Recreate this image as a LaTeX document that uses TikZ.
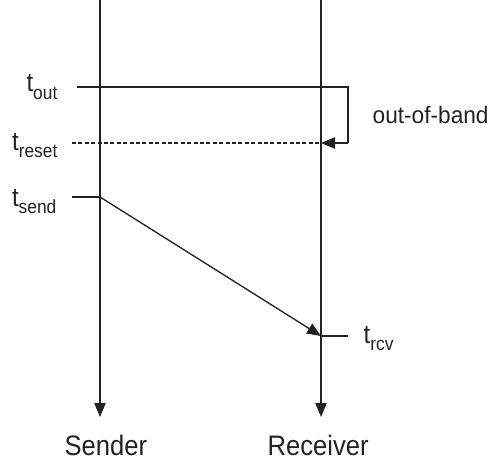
\documentclass[tikz,border=0pt]{standalone}
\usepackage{fontspec}
\usepackage{graphicx}
\setmainfont{Liberation Sans}
\usetikzlibrary{arrows.meta}
% slightly tall lettering used for all labels
\newcommand{\tall}[1]{\scalebox{1}[1.1]{#1}}
% time label: "t" with a lowered, smaller subscript
\newcommand{\tlabel}[1]{\tall{t\raisebox{-5pt}{\fontsize{13}{13}\selectfont #1}}}
\definecolor{ink}{HTML}{222222}
\begin{document}
\begin{tikzpicture}[x=0.75pt,y=-0.75pt,
  line width=1pt, draw=ink, text=ink,
  tip/.style={-{Triangle[length=10.5pt,width=8.5pt]}},
  timelbl/.style={inner sep=0pt,font=\fontsize{18}{18}\selectfont},
  partylbl/.style={inner sep=0pt,anchor=base west,font=\fontsize{19.2}{19.2}\selectfont}]
\useasboundingbox (0,0) rectangle (489,460);

% time axes
\coordinate (sTop) at (100,0);
\coordinate (sEnd) at (100,417);
\coordinate (rTop) at (321,0);
\coordinate (rEnd) at (321,417);
\draw[tip] (sTop) -- (sEnd);
\draw[tip] (rTop) -- (rEnd);

% party names
\node[partylbl] (sender) at (64,455) {\tall{Sender}};
\node[partylbl] (receiver) at (267,455) {\tall{Receiver}};

% time labels
\node[timelbl,anchor=base east] (tout) at (58,92) {\tlabel{out}};
\node[timelbl,anchor=base east] (treset) at (58,150) {\tlabel{reset}};
\node[timelbl,anchor=base east] (tsend) at (57,206) {\tlabel{send}};
\node[timelbl,anchor=base west] (trcv) at (363,343) {\tlabel{rcv}};
\node[inner sep=0pt,anchor=base west,font=\fontsize{17}{17}\selectfont] (oob) at (372,123) {\scalebox{1}[1.05]{out-of-band}};

% timeout and out-of-band reset
\coordinate (outA) at (77,87);
\coordinate (outB) at (348,87);
\coordinate (outC) at (348,143);
\coordinate (resetR) at (321,143);
\coordinate (resetA) at (72,143);
\draw (outA) -- (outB) -- (outC);
\draw[tip] (outC) -- (resetR);
\draw[dashed,dash pattern=on 3pt off 1.8pt] (resetA) -- (resetR);

% message transfer
\coordinate (sendA) at (72,197);
\coordinate (sendB) at (100,197);
\coordinate (rcvA) at (321,336);
\coordinate (rcvB) at (348,336);
\draw (sendA) -- (sendB);
\draw[tip] (sendB) -- (rcvA);
\draw (rcvA) -- (rcvB);
\end{tikzpicture}
\end{document}
